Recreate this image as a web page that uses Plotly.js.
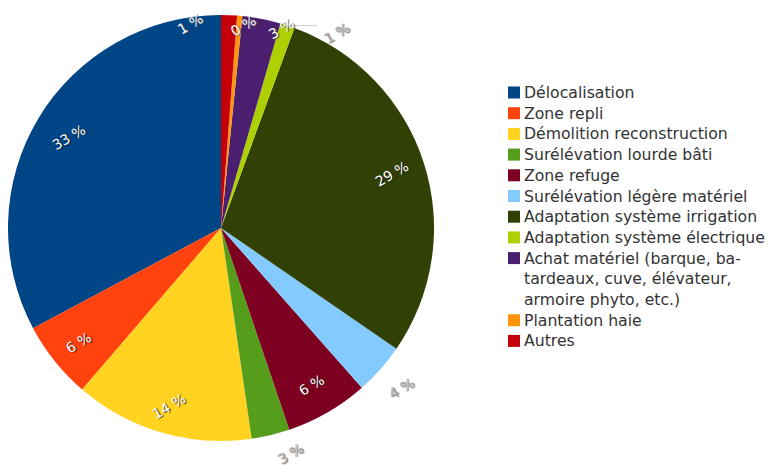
<!DOCTYPE html>
<html>
<head>
<meta charset="utf-8">
<script src="https://cdn.plot.ly/plotly-3.0.1.min.js"></script>
<style>html,body{margin:0;padding:0;background:#fff;}#chart{width:768px;height:469px;}</style>
</head>
<body>
<div id="chart"></div>
<script>
// ---- data ----
const categories = [
  "Délocalisation",
  "Zone repli",
  "Démolition reconstruction",
  "Surélévation lourde bâti",
  "Zone refuge",
  "Surélévation légère matériel",
  "Adaptation système irrigation",
  "Adaptation système électrique",
  "Achat matériel (barque, ba-<br>tardeaux, cuve, élévateur,<br>armoire phyto, etc.)",
  "Plantation haie",
  "Autres"
];
const values = [32.8, 5.9, 13.6, 2.9, 6.3, 3.9, 29.0, 1.1, 2.9, 0.4, 1.2];
const colors = ["#004586", "#ff420e", "#ffd320", "#579d1c", "#7e0021", "#83caff",
                "#314004", "#aecf00", "#4b1f6f", "#ff950e", "#c5000b"];

// ---- layout constants (not data) ----
const W = 768, H = 469;
const CX = 221, CY = 228, R = 213;
const FONT = "DejaVu Sans";
// label placement: radius as fraction of R, angle offset (deg, ccw), style
const labelRadius = [0.83, 0.86, 0.87, 1.11, 0.85, 1.135, 0.84, 1.066, 0.976, 0.954, 0.968];
const labelAngleOffset = [0, 0, 0, 3.5, 0, 0, 0, -12.5, -5.8, -1.2, 10.8];
const labelStyle = ["in", "in", "in", "out", "in", "out", "in", "out", "top", "top", "top"];

const total = values.reduce((a, b) => a + b, 0);
const px2x = x => x / W;
const px2y = y => 1 - y / H;

// first slice must start at 12 o'clock and run counterclockwise
const trace = {
  type: "pie",
  labels: categories,
  values: values,
  sort: false,
  direction: "counterclockwise",
  rotation: -(values[0] / total) * 360,
  marker: {colors: colors, line: {width: 0}},
  textinfo: "none",
  hoverinfo: "label+percent",
  domain: {x: [px2x(CX - R), px2x(CX + R)], y: [px2y(CY + R), px2y(CY - R)]},
  showlegend: false
};

const annotations = [];
const shapes = [];

// slice labels (slices run counterclockwise from 12 o'clock)
let cum = 0;
values.forEach((v, i) => {
  const mid = (cum + v / 2) / total;
  cum += v;
  const theta = (mid * 360 + labelAngleOffset[i]) * Math.PI / 180;
  const r = labelRadius[i] * R;
  const x = CX - r * Math.sin(theta);
  const y = CY - r * Math.cos(theta);
  const st = labelStyle[i];
  let font;
  if (st === "in") font = {family: FONT, size: 14, color: "#ffffff", shadow: "1px 1px 1px #222"};
  else if (st === "top") font = {family: FONT, size: 14, color: "#ffffff", shadow: "1px 1px 1px #555"};
  else font = {family: FONT, size: 14, color: "#b0b0b0", shadow: "1px 1px 1px #6a6a6a"};
  annotations.push({
    xref: "paper", yref: "paper", x: px2x(x), y: px2y(y),
    xanchor: "center", yanchor: "middle", showarrow: false,
    text: Math.round(v / total * 100) + " %", textangle: -30, font: font
  });
  if (i === 7) {
    const tm = mid * 360 * Math.PI / 180;
    const ex = CX - R * Math.sin(tm), ey = CY - R * Math.cos(tm);
    shapes.push({type: "line", xref: "paper", yref: "paper",
      x0: px2x(ex), y0: px2y(ey), x1: px2x(ex + 30), y1: px2y(ey),
      line: {color: "#cccccc", width: 1}});
  }
});

// legend (manual, one line per text row)
const LX = 508, LTX = 522, LY0 = 92.5, LSTEP = 20.7, SQ = 12;
let line = 0;
categories.forEach((c, i) => {
  const parts = c.split("<br>");
  const yc = LY0 + LSTEP * line;
  shapes.push({type: "rect", xref: "paper", yref: "paper",
    x0: px2x(LX), x1: px2x(LX + SQ), y0: px2y(yc + SQ / 2), y1: px2y(yc - SQ / 2),
    fillcolor: colors[i], line: {width: 0}});
  parts.forEach(p => {
    annotations.push({
      xref: "paper", yref: "paper", x: px2x(LTX), y: px2y(LY0 + LSTEP * line),
      xanchor: "left", yanchor: "middle", showarrow: false, text: p,
      font: {family: FONT, size: 15.7, color: "#333333"}
    });
    line++;
  });
});

const layout = {
  width: W, height: H,
  margin: {l: 0, r: 0, t: 0, b: 0},
  paper_bgcolor: "#ffffff",
  showlegend: false,
  annotations: annotations,
  shapes: shapes
};

Plotly.newPlot("chart", [trace], layout, {displayModeBar: false, staticPlot: true});
</script>
</body>
</html>
